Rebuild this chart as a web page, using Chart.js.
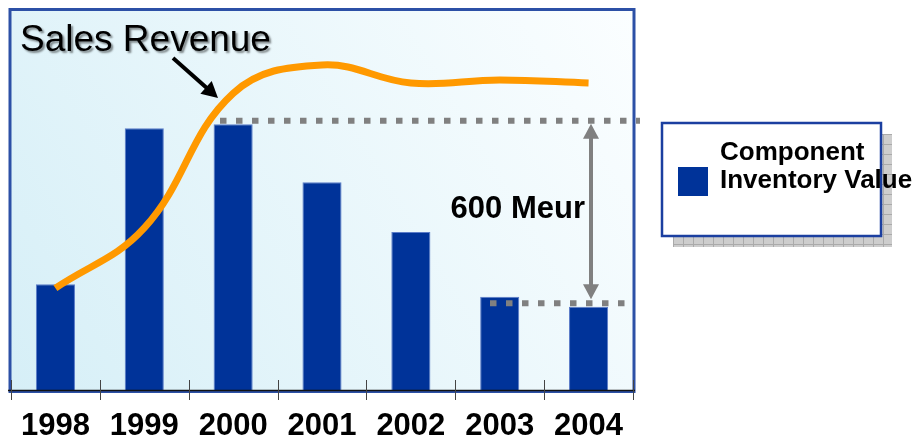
<!DOCTYPE html>
<html>
<head>
<meta charset="utf-8">
<script src="https://cdn.jsdelivr.net/npm/chart.js@4/dist/chart.umd.min.js"></script>
<style>
  html, body { margin: 0; padding: 0; background: #ffffff; }
  canvas { display: block; }
</style>
</head>
<body>
<canvas id="chart" width="918" height="436"></canvas>
<script>
// Yearly categories
const years = ['1998', '1999', '2000', '2001', '2002', '2003', '2004'];
// Component inventory value (Meur)
const inventoryValue = [348, 861, 874, 683, 520, 307, 274];
// Sales revenue trend (same scale, shown as a curve)
const salesRevenue = [335, 533, 976, 1069, 1010, 1020, 1010];

const inventoryLabel = 'Component Inventory Value';
const revenueLabel = 'Sales Revenue';
const FONT = '"Liberation Sans", Arial, Helvetica, sans-serif';

// Years compared by the bracket: peak (2000) and latest (2004)
const peakIndex = 2;
const latestIndex = 6;
const dropLabel = (inventoryValue[peakIndex] - inventoryValue[latestIndex]) + ' Meur';

function drawArrowHead(ctx, x, y, angle, len, width) {
  ctx.save();
  ctx.translate(x, y);
  ctx.rotate(angle);
  ctx.beginPath();
  ctx.moveTo(0, 0);
  ctx.lineTo(-len, -width / 2);
  ctx.lineTo(-len, width / 2);
  ctx.closePath();
  ctx.fill();
  ctx.restore();
}

const decorPlugin = {
  id: 'decor',
  beforeDatasetsDraw(chart) {
    const ctx = chart.ctx;
    const a = chart.chartArea;
    // panel background: pale blue at the bottom-left fading to white at the top-right
    const g = ctx.createLinearGradient(a.left, a.bottom, a.right, a.top);
    g.addColorStop(0, '#d6eff7');
    g.addColorStop(1, '#fbfeff');
    ctx.save();
    ctx.fillStyle = g;
    ctx.fillRect(10, 9, 624, 382);
    ctx.restore();
  },
  afterDraw(chart) {
    const ctx = chart.ctx;
    const x = chart.scales.x;
    const y = chart.scales.y;
    const a = chart.chartArea;
    ctx.save();

    // panel frame
    ctx.strokeStyle = '#2c50a6';
    ctx.lineWidth = 3;
    ctx.strokeRect(10, 9.5, 624, 382);

    // category axis line and tick marks between the years
    ctx.strokeStyle = '#111111';
    ctx.lineWidth = 1.5;
    ctx.beginPath();
    ctx.moveTo(8, a.bottom + 0.5);
    ctx.lineTo(635, a.bottom + 0.5);
    ctx.stroke();
    const half = (x.getPixelForValue(1) - x.getPixelForValue(0)) / 2;
    ctx.strokeStyle = '#444444';
    ctx.lineWidth = 1;
    for (let i = 0; i <= years.length; i++) {
      const px = Math.round(x.getPixelForValue(i) - half) + 0.5;
      ctx.beginPath();
      ctx.moveTo(px, a.bottom - 10);
      ctx.lineTo(px, a.bottom + 10);
      ctx.stroke();
    }

    // dotted reference levels at the peak and the latest inventory value
    const yPeak = y.getPixelForValue(inventoryValue[peakIndex]) - 3.5;
    const yLow = y.getPixelForValue(inventoryValue[latestIndex]) - 3.5;
    ctx.strokeStyle = '#808080';
    ctx.lineWidth = 6;
    ctx.setLineDash([6.5, 9.5]);
    ctx.beginPath();
    ctx.moveTo(220, yPeak);
    ctx.lineTo(640, yPeak);
    ctx.stroke();
    ctx.beginPath();
    ctx.moveTo(490, yLow);
    ctx.lineTo(628, yLow);
    ctx.stroke();
    ctx.setLineDash([]);

    // double-headed bracket arrow
    const ax = 591;
    const top = yPeak + 3;
    const bot = yLow - 4;
    ctx.fillStyle = '#808080';
    ctx.lineWidth = 4;
    ctx.beginPath();
    ctx.moveTo(ax, top + 10);
    ctx.lineTo(ax, bot - 10);
    ctx.stroke();
    drawArrowHead(ctx, ax, top, -Math.PI / 2, 15, 16);
    drawArrowHead(ctx, ax, bot, Math.PI / 2, 15, 16);

    // bracket label
    ctx.fillStyle = '#000000';
    ctx.font = 'bold 31px ' + FONT;
    ctx.textAlign = 'right';
    ctx.textBaseline = 'alphabetic';
    ctx.fillText(dropLabel, 585, 218);

    // series title with soft drop shadow
    ctx.save();
    ctx.font = '37px ' + FONT;
    ctx.textAlign = 'left';
    ctx.shadowColor = 'rgba(0,0,0,0.45)';
    ctx.shadowOffsetX = 2;
    ctx.shadowOffsetY = 2;
    ctx.shadowBlur = 2;
    ctx.fillStyle = '#000000';
    ctx.fillText(revenueLabel, 20, 51);
    ctx.restore();

    // pointer from the title to the curve
    ctx.strokeStyle = '#000000';
    ctx.fillStyle = '#000000';
    ctx.lineWidth = 4;
    ctx.lineCap = 'butt';
    const x0 = 173, y0 = 58, x1 = 218, y1 = 98;
    const ang = Math.atan2(y1 - y0, x1 - x0);
    ctx.beginPath();
    ctx.moveTo(x0, y0);
    ctx.lineTo(x1 - 12 * Math.cos(ang), y1 - 12 * Math.sin(ang));
    ctx.stroke();
    drawArrowHead(ctx, x1, y1, ang, 16, 17);

    // legend box with hatched shadow
    const lx = 662, ly = 123, lw = 219, lh = 113;
    ctx.fillStyle = '#cdcdcd';
    ctx.fillRect(lx + 11, ly + 11, lw, lh);
    ctx.strokeStyle = '#aaaaaa';
    ctx.lineWidth = 1;
    for (let sx = lx + 11; sx <= lx + 11 + lw; sx += 10) {
      ctx.beginPath(); ctx.moveTo(sx + 0.5, ly + 11); ctx.lineTo(sx + 0.5, ly + 11 + lh); ctx.stroke();
    }
    for (let sy = ly + 11; sy <= ly + 11 + lh; sy += 10) {
      ctx.beginPath(); ctx.moveTo(lx + 11, sy + 0.5); ctx.lineTo(lx + 11 + lw, sy + 0.5); ctx.stroke();
    }
    ctx.fillStyle = '#ffffff';
    ctx.fillRect(lx, ly, lw, lh);
    ctx.strokeStyle = '#1b3fa0';
    ctx.lineWidth = 2.5;
    ctx.strokeRect(lx, ly, lw, lh);

    const ds = chart.data.datasets[1];
    ctx.fillStyle = ds.backgroundColor;
    ctx.fillRect(678, 167, 30, 29);
    ctx.fillStyle = '#000000';
    ctx.font = 'bold 26px ' + FONT;
    ctx.textAlign = 'left';
    const words = ds.label.split(' ');
    ctx.fillText(words[0], 720, 160);
    ctx.fillText(words.slice(1).join(' '), 720, 188);

    ctx.restore();
  }
};

new Chart(document.getElementById('chart'), {
  data: {
    labels: years,
    datasets: [
      {
        type: 'line',
        label: revenueLabel,
        data: salesRevenue,
        borderColor: '#ff9900',
        borderWidth: 7,
        borderCapStyle: 'butt',
        pointRadius: 0,
        tension: 0.4,
        fill: false,
        order: 0
      },
      {
        type: 'bar',
        label: inventoryLabel,
        data: inventoryValue,
        backgroundColor: '#003399',
        borderColor: '#5b7cc8',
        borderWidth: 1,
        barPercentage: 0.44,
        categoryPercentage: 1,
        order: 1
      }
    ]
  },
  options: {
    responsive: false,
    animation: false,
    layout: { padding: { left: 11, right: 285, top: 10, bottom: 0 } },
    plugins: { legend: { display: false }, tooltip: { enabled: false } },
    scales: {
      x: {
        grid: { display: false },
        border: { display: false },
        ticks: {
          color: '#000000',
          font: { family: FONT, size: 31, weight: 'bold' },
          padding: 10,
          maxRotation: 0,
          autoSkip: false
        },
        afterFit(scale) { scale.height = 46; }
      },
      y: {
        display: false,
        min: 0,
        max: 1250
      }
    }
  },
  plugins: [decorPlugin]
});
</script>
</body>
</html>
